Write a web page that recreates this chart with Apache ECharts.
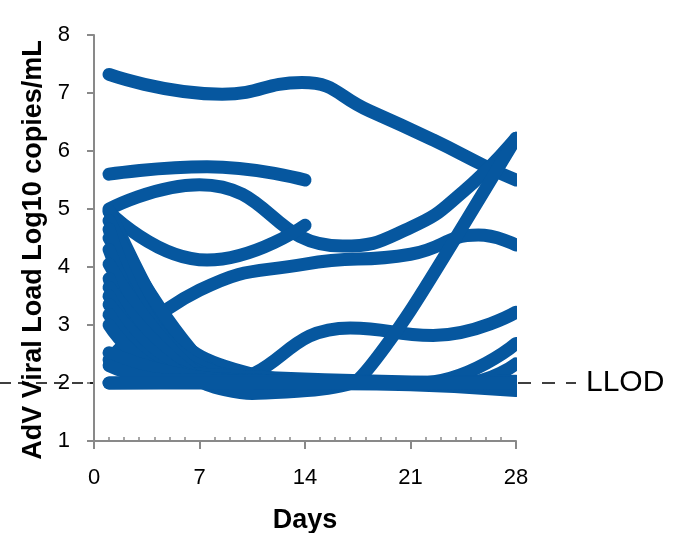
<!DOCTYPE html>
<html><head><meta charset="utf-8">
<script src="https://cdn.jsdelivr.net/npm/echarts@6/dist/echarts.min.js"></script>
<style>html,body{margin:0;padding:0;background:#fff}#c{width:688px;height:533px}</style>
</head><body><div id="c"></div>
<script>
// Axis settings
const xTicks = [0, 7, 14, 21, 28];
const yTicks = [1, 2, 3, 4, 5, 6, 7, 8];
const llodValue = 2;
const llodLabel = 'LLOD';
const xTitle = 'Days';
const yTitle = 'AdV Viral Load Log10 copies/mL';

// Patient viral load curves: [day, log10 copies/mL]
const p01 = [[1,7.32],[8.5,6.98],[13.8,7.18],[18.3,6.69],[22.5,6.19],[26.1,5.72],[28,5.5]];
const p02 = [[1,5.6],[7.5,5.73],[14,5.5]];
const p03 = [[1,5.0],[7,5.42],[16.5,4.36],[21,4.68],[24.5,5.3],[28,6.22]];
const p04 = [[1,4.95],[7.5,4.12],[14,4.72]];
const p05 = [[1,2.4],[7,3.6],[14,4.05],[21,4.22],[25.5,4.55],[28,4.38]];
const p06 = [[1,2.0],[8,2.02],[17,2.95],[22.5,2.82],[28,3.22]];
const p07 = [[1,4.5],[7,2.05],[10.5,1.82],[15,1.89],[17.5,2.05],[21,3.25],[28,6.22]];
const p08 = [[1,4.97],[4.6,3.12],[6.8,2.5],[10.4,2.16],[14,2.03],[28,2.0]];
const p09 = [[1,4.8],[7,2.4],[10,2.1],[14,2.0],[21.5,2.0],[28,2.68]];
const p10 = [[1,4.65],[7,2.3],[14,2.0],[24.5,2.0],[28,2.33]];
const p11 = [[1,4.3],[7,2.2],[12,2.0],[21,1.97],[28,1.87]];
const p12 = [[1,4.05],[6,2.35],[9,2.05],[28,2.0]];
const p13 = [[1,3.8],[7,2.15],[28,2.0]];
const p14 = [[1,3.65],[6,2.25],[9,2.0],[28,2.0]];
const p15 = [[1,3.5],[7,2.1],[14,2.0],[28,2.03]];
const p16 = [[1,3.35],[5,2.3],[8,2.0],[28,2.0]];
const p17 = [[1,3.18],[7,2.05],[28,2.0]];
const p18 = [[1,3.0],[6,2.1],[21,2.0]];
const p19 = [[1,2.52],[7,2.1],[14,2.0],[28,2.0]];
const p20 = [[1,2.3],[5,2.05],[28,2.0]];
const p21 = [[1,2.0],[28,2.0]];

const patients = [p01,p02,p03,p04,p05,p06,p07,p08,p09,p10,p11,p12,p13,p14,p15,p16,p17,p18,p19,p20,p21];
// per-curve smoothing
const smoothing = new Map([[p07, 0.2], [p08, 0.3]]);

const blue = '#06579f';
const gray = '#898989';
const font = 'Liberation Sans, Arial, sans-serif';

const chart = echarts.init(document.getElementById('c'), null, {renderer: 'canvas'});
chart.setOption({
  animation: false,
  grid: {left: 94, right: 172, top: 35, bottom: 92, containLabel: false, outerBoundsMode: 'none'},
  xAxis: {
    type: 'value', min: xTicks[0], max: xTicks[xTicks.length-1], interval: 7,
    name: xTitle, nameLocation: 'middle', nameGap: 66,
    nameTextStyle: {fontFamily: font, fontWeight: 'bold', fontSize: 27, color: '#000'},
    axisLine: {lineStyle: {color: gray, width: 2}},
    axisTick: {length: 8, lineStyle: {color: gray, width: 2}},
    minorTick: {show: true, splitNumber: 7, length: -4, lineStyle: {color: gray, width: 1.5}},
    axisLabel: {fontFamily: font, fontSize: 22, color: '#000', margin: 26},
    splitLine: {show: false}
  },
  yAxis: {
    type: 'value', min: yTicks[0], max: yTicks[yTicks.length-1], interval: 1,
    name: yTitle, nameLocation: 'middle', nameGap: 43, nameRotate: 90,
    nameTextStyle: {fontFamily: font, fontWeight: 'bold', fontSize: 27, color: '#000', padding: [0, 24, 0, 0]},
    axisLine: {show: true, lineStyle: {color: gray, width: 2}},
    axisTick: {show: true, length: 7, lineStyle: {color: gray, width: 2}},
    axisLabel: {fontFamily: font, fontSize: 22, color: '#000', margin: 24},
    splitLine: {show: false}
  },
  series: patients.map(d => ({
    type: 'line', data: d,
    smooth: smoothing.has(d) ? smoothing.get(d) : true,
    showSymbol: false, symbol: 'none',
    clip: true, silent: true,
    lineStyle: {color: blue, width: 13, cap: 'round', join: 'round'}
  }))
});

const pL = chart.convertToPixel({gridIndex: 0}, [xTicks[0], llodValue]);
const pR = chart.convertToPixel({gridIndex: 0}, [xTicks[xTicks.length-1], llodValue]);
const yTop = chart.convertToPixel({gridIndex: 0}, [0, yTicks[yTicks.length-1]])[1];
const yBot = chart.convertToPixel({gridIndex: 0}, [0, yTicks[0]])[1];
chart.setOption({
  graphic: [
    {type: 'rect', z: 100, shape: {x: pR[0] + 1, y: yTop - 10, width: 10, height: yBot - yTop + 8}, style: {fill: '#fff'}},
    {type: 'line', z: 101, shape: {x1: 0, y1: pL[1], x2: pL[0] - 1, y2: pL[1]}, style: {stroke: '#000', lineWidth: 1.5, lineDash: [11, 7]}},
    {type: 'line', z: 101, shape: {x1: pR[0] + 2, y1: pR[1], x2: pR[0] + 60, y2: pR[1]}, style: {stroke: '#000', lineWidth: 1.5, lineDash: [13, 11]}},
    {type: 'text', z: 101, x: pR[0] + 70, y: pR[1], style: {text: llodLabel, font: '30px ' + font, fill: '#000', verticalAlign: 'middle', align: 'left'}}
  ]
});
</script></body></html>
